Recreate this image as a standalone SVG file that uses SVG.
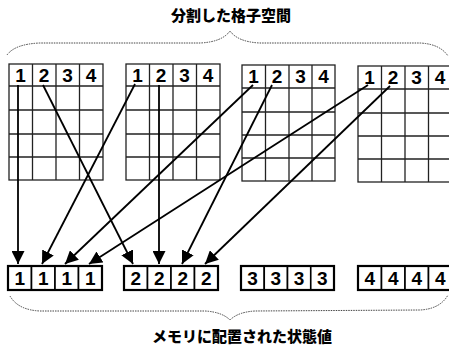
<svg xmlns="http://www.w3.org/2000/svg" width="449" height="349" viewBox="0 0 449 349">
<style>
.title{font-family:"Noto Sans CJK JP","Noto Sans",sans-serif;font-weight:900;font-size:15px;fill:#000;text-anchor:middle}
.g{fill:#fff;stroke:#222;stroke-width:1.3}
.gl{fill:none;stroke:#222;stroke-width:1.3}
.d{font-family:"Liberation Sans",Arial,sans-serif;font-weight:bold;font-size:19px;fill:#000;text-anchor:middle}
.m{fill:#fff;stroke:#000;stroke-width:1.6}
.mo{fill:none;stroke:#000;stroke-width:2.2}
.brace{fill:none;stroke:#444;stroke-width:1;stroke-dasharray:1.5 1}
.arr{fill:none;stroke:#000;stroke-width:1.8;marker-end:url(#ah)}
</style>
<defs>
<marker id="ah" viewBox="0 0 12 12" refX="12" refY="6" markerWidth="13" markerHeight="13" markerUnits="userSpaceOnUse" orient="auto">
<path d="M0,0 L12,6 L0,12 z" fill="#000"/>
</marker>
</defs>
<rect width="449" height="349" fill="#fff"/>

<g id="title-top">
<text class="title" x="231" y="21">分割した格子空間</text>
</g>
<g id="brace-top">
<path class="brace" d="M7,55 Q15,44 40,43 L200,43 Q222,42 230,31 Q238,42 260,43 L420,43 Q440,44 448,56"/>
</g>

<g id="grid1">
<rect class="g" x="9" y="64" width="94" height="116"/>
<path class="gl" d="M32.5,64V180M56,64V180M79.5,64V180M9,86H103M9,110H103M9,134H103M9,157H103"/>
<text class="d" x="20.5" y="82">1</text><text class="d" x="44" y="82">2</text><text class="d" x="67.5" y="82">3</text><text class="d" x="91" y="82">4</text>
</g>
<g id="grid2">
<rect class="g" x="126" y="64" width="94" height="116"/>
<path class="gl" d="M149.5,64V180M173,64V180M196.5,64V180M126,86H220M126,110H220M126,134H220M126,157H220"/>
<text class="d" x="137.5" y="82">1</text><text class="d" x="161" y="82">2</text><text class="d" x="184.5" y="82">3</text><text class="d" x="208" y="82">4</text>
</g>
<g id="grid3">
<rect class="g" x="242" y="65" width="93" height="116"/>
<path class="gl" d="M265.5,65V181M289,65V181M312,65V181M242,88H335M242,112H335M242,135H335M242,158H335"/>
<text class="d" x="253.5" y="83">1</text><text class="d" x="277" y="83">2</text><text class="d" x="300.5" y="83">3</text><text class="d" x="323.5" y="83">4</text>
</g>
<g id="grid4">
<rect class="g" x="358" y="66" width="94" height="116"/>
<path class="gl" d="M381.5,66V182M405,66V182M428.5,66V182M358,89H452M358,113H452M358,136H452M358,159H452"/>
<text class="d" x="369.5" y="84">1</text><text class="d" x="393" y="84">2</text><text class="d" x="416.5" y="84">3</text><text class="d" x="440" y="84">4</text>
</g>

<g id="mem1">
<rect class="m" x="8" y="266" width="23.5" height="24"/><rect class="m" x="31.5" y="266" width="23.5" height="24"/><rect class="m" x="55" y="266" width="23.5" height="24"/><rect class="m" x="78.5" y="266" width="23.5" height="24"/>
<rect class="mo" x="8" y="266" width="94" height="24"/>
<text class="d" x="19.75" y="285">1</text><text class="d" x="43.25" y="285">1</text><text class="d" x="66.75" y="285">1</text><text class="d" x="90.25" y="285">1</text>
</g>
<g id="mem2">
<rect class="m" x="124" y="266" width="23.5" height="24"/><rect class="m" x="147.5" y="266" width="23.5" height="24"/><rect class="m" x="171" y="266" width="23.5" height="24"/><rect class="m" x="194.5" y="266" width="23.5" height="24"/>
<rect class="mo" x="124" y="266" width="94" height="24"/>
<text class="d" x="135.75" y="285">2</text><text class="d" x="159.25" y="285">2</text><text class="d" x="182.75" y="285">2</text><text class="d" x="206.25" y="285">2</text>
</g>
<g id="mem3">
<rect class="m" x="241" y="266" width="23.25" height="24"/><rect class="m" x="264.25" y="266" width="23.25" height="24"/><rect class="m" x="287.5" y="266" width="23.25" height="24"/><rect class="m" x="310.75" y="266" width="23.25" height="24"/>
<rect class="mo" x="241" y="266" width="93" height="24"/>
<text class="d" x="252.6" y="285">3</text><text class="d" x="275.9" y="285">3</text><text class="d" x="299.1" y="285">3</text><text class="d" x="322.4" y="285">3</text>
</g>
<g id="mem4">
<rect class="m" x="358" y="266" width="23.5" height="24"/><rect class="m" x="381.5" y="266" width="23.5" height="24"/><rect class="m" x="405" y="266" width="23.5" height="24"/><rect class="m" x="428.5" y="266" width="23.5" height="24"/>
<rect class="mo" x="358" y="266" width="94" height="24"/>
<text class="d" x="369.75" y="285">4</text><text class="d" x="393.25" y="285">4</text><text class="d" x="416.75" y="285">4</text><text class="d" x="440.25" y="285">4</text>
</g>

<g id="connectors">
<line class="arr" x1="18" y1="85" x2="18" y2="264"/>
<line class="arr" x1="43" y1="85" x2="133" y2="264"/>
<line class="arr" x1="135" y1="84" x2="42" y2="264"/>
<line class="arr" x1="159" y1="85" x2="159" y2="264"/>
<line class="arr" x1="253" y1="85" x2="65" y2="264"/>
<line class="arr" x1="272" y1="85" x2="182" y2="264"/>
<line class="arr" x1="368" y1="85" x2="89" y2="264"/>
<line class="arr" x1="390" y1="86" x2="205" y2="264"/>
</g>

<g id="brace-bottom">
<path class="brace" d="M10,296 Q18,310 40,311 L205,311 Q222,312 230,320 Q238,312 255,311 L420,310 Q440,309 448,295"/>
</g>
<g id="title-bottom">
<text class="title" x="242" y="342">メモリに配置された状態値</text>
</g>
</svg>
